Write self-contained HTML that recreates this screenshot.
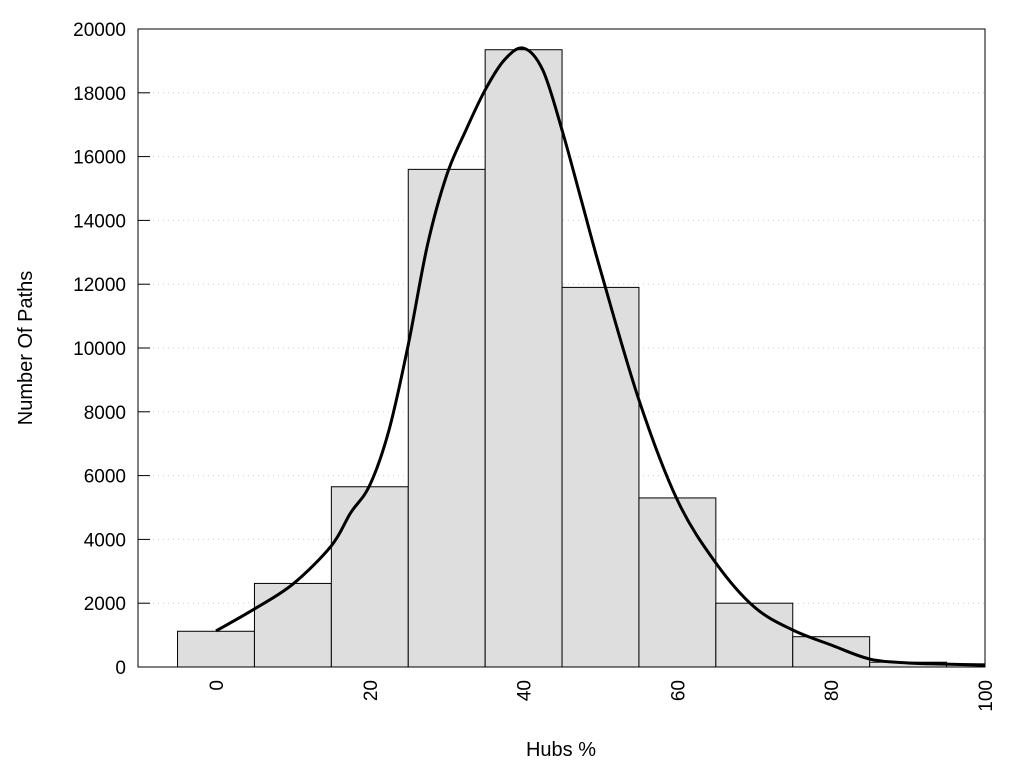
<!DOCTYPE html>
<html><head><meta charset="utf-8"><style>
body{margin:0;background:#fff;font-family:"Liberation Sans",Arial,sans-serif}
</style></head><body>
<svg id="chart" width="1024" height="768" xmlns="http://www.w3.org/2000/svg" font-family="Liberation Sans, Arial, sans-serif">
<g id="grid"></g>
<g id="bars"></g>
<g id="curve"></g>
<rect x="138" y="29" width="847" height="638" fill="none" stroke="#000" stroke-width="1"/>
<g id="yticks"></g>
<g id="xticks"></g>
<text x="561" y="756" font-size="20" text-anchor="middle">Hubs %</text>
<text x="32" y="348" font-size="20" text-anchor="middle" transform="rotate(-90 32 348)">Number Of Paths</text>
</svg>
<script>
const binCenters=[0,10,20,30,40,50,60,70,80,90,100];
const binCounts=[1120,2620,5650,15600,19350,11900,5300,2000,950,150,100];
const curveX=[0,5,10,15,17.5,20,22.5,25,27.5,30,32.5,35,37.5,40,42.5,45,47.5,50,55,60,65,70,75,80,85,90,95,100];
const curveY=[1130,1820,2600,3800,4830,5700,7430,10100,13230,15420,16830,18090,19030,19400,18710,16830,14640,12440,8370,5230,3260,1880,1160,690,250,125,90,60];
const yTicks=[0,2000,4000,6000,8000,10000,12000,14000,16000,18000,20000];
const xTicks=[0,20,40,60,80,100];
const NS="http://www.w3.org/2000/svg";
const L=138,R=985,T=29,B=667;
const sx=v=>216+(v)*(985-216)/100;
const sy=v=>B-v*(B-T)/20000;
function mk(tag,attrs,parent){const e=document.createElementNS(NS,tag);for(const k in attrs)e.setAttribute(k,attrs[k]);parent.appendChild(e);return e;}
const grid=document.getElementById('grid'),bars=document.getElementById('bars'),yt=document.getElementById('yticks'),xt=document.getElementById('xticks'),cv=document.getElementById('curve');
yTicks.forEach(v=>{
  if(v>0&&v<20000){const g=mk('line',{x1:L,x2:R,y1:sy(v),y2:sy(v),stroke:'#ccc','stroke-dasharray':'1,4'},grid);
  
  }
  const t=mk('line',{x1:L,x2:L+12,y1:sy(v),y2:sy(v),stroke:'#000'},yt);
  
  
  const tx=mk('text',{x:126,y:sy(v)+7,'font-size':19,'text-anchor':'end'},yt);tx.textContent=v;
  
  
});
xTicks.forEach(v=>{
  const x=sx(v)+7,y=680;
  const tx=mk('text',{x:x,y:y,'font-size':19,'text-anchor':'end',transform:`rotate(-90 ${x} ${y})`},xt);tx.textContent=v;
  
  
});
const bw=10;
binCenters.forEach((c,i)=>{
  const x0=sx(c-bw/2),x1=Math.min(sx(c+bw/2),R);
  const r=mk('rect',{x:x0,y:sy(binCounts[i]),width:x1-x0,height:B-sy(binCounts[i]),fill:'#dedede',stroke:'#000','stroke-width':1},bars);
  
  
});
const pts=curveX.map((x,i)=>[sx(x),sy(curveY[i])]);
let d=`M${pts[0][0]},${pts[0][1]}`;
for(let i=0;i<pts.length-1;i++){
  const p0=pts[Math.max(i-1,0)],p1=pts[i],p2=pts[i+1],p3=pts[Math.min(i+2,pts.length-1)];
  const c1=[p1[0]+(p2[0]-p0[0])/6,p1[1]+(p2[1]-p0[1])/6];
  const c2=[p2[0]-(p3[0]-p1[0])/6,p2[1]-(p3[1]-p1[1])/6];
  d+=` C${c1[0]},${c1[1]} ${c2[0]},${c2[1]} ${p2[0]},${p2[1]}`;
}
const path=mk('path',{d:d,fill:'none',stroke:'#000','stroke-width':3},cv);


</script>
</body></html>
